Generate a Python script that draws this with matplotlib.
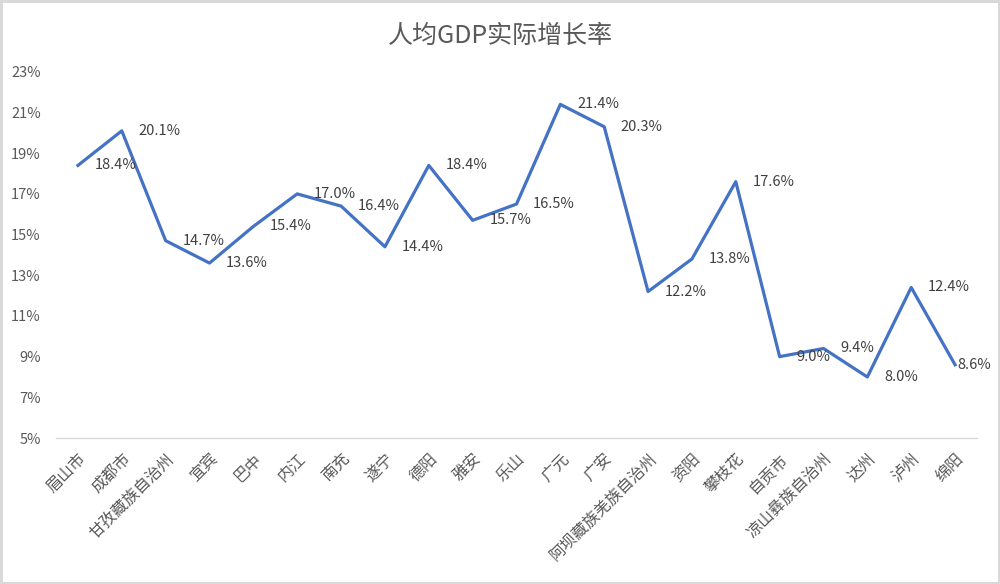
import matplotlib
matplotlib.use('Agg')
import matplotlib.pyplot as plt
from matplotlib.ticker import FuncFormatter

plt.rcParams['font.family'] = ['Noto Sans CJK SC', 'DejaVu Sans']

# 数据
cities = ['眉山市', '成都市', '甘孜藏族自治州', '宜宾', '巴中', '内江', '南充', '遂宁', '德阳',
          '雅安', '乐山', '广元', '广安', '阿坝藏族羌族自治州', '资阳', '攀枝花', '自贡市',
          '凉山彝族自治州', '达州', '泸州', '绵阳']
growth = [18.4, 20.1, 14.7, 13.6, 15.4, 17.0, 16.4, 14.4, 18.4,
          15.7, 16.5, 21.4, 20.3, 12.2, 13.8, 17.6, 9.0,
          9.4, 8.0, 12.4, 8.6]
yticks = list(range(5, 24, 2))

fig = plt.figure(figsize=(10, 5.84), dpi=100)
fig.patch.set_edgecolor('#d9d9d9')
fig.patch.set_linewidth(2.5)
ax = fig.add_axes([0.056, 0.25, 0.921, 0.627])

x = list(range(len(cities)))
ax.plot(x, growth, color='#4472C4', linewidth=2.3)

# 数据标签放在点的右侧，最后一个贴近以免出界
for xi, v in zip(x, growth):
    dx = 2 if xi == len(cities) - 1 else 12
    ax.annotate(f'{v:.1f}%', (xi, v), xytext=(dx, 0), textcoords='offset points',
                ha='left', va='center', fontsize=10.5, color='#404040')

ax.set_xlim(-0.5, len(cities) - 0.5)
ax.set_ylim(5, 23)
ax.set_yticks(yticks)
ax.yaxis.set_major_formatter(FuncFormatter(lambda v, p: f'{v:.0f}%'))
for s in ['top', 'right', 'left']:
    ax.spines[s].set_visible(False)
ax.spines['bottom'].set_color('#d9d9d9')
ax.spines['bottom'].set_linewidth(1)

ax.set_xticks(x)
ax.set_xticklabels(cities, rotation=45, ha='right', rotation_mode='anchor',
                   fontsize=11.5, color='#595959')
ax.tick_params(axis='x', length=0, pad=9)
ax.tick_params(axis='y', length=0, labelsize=10.5, labelcolor='#595959', pad=11)

fig.text(0.5, 0.938, '人均GDP实际增长率', ha='center', va='center', fontsize=18, color='#595959')

fig.savefig('out.png', dpi=100, edgecolor=fig.get_edgecolor())
